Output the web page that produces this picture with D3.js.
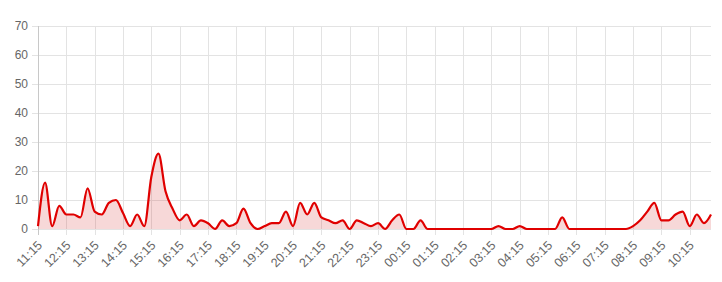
<!DOCTYPE html>
<html>
<head>
<meta charset="utf-8">
<script src="https://cdn.jsdelivr.net/npm/d3@7/dist/d3.min.js"></script>
<style>
  body { margin: 0; background: #fff; }
  #chart text { font-family: "Liberation Sans", Arial, sans-serif; font-size: 12px; fill: #666; }
  #chart .xlab { font-size: 12.5px; }
</style>
</head>
<body>
<div id="chart"></div>
<script>
// one value every 15 minutes, starting 11:15
const values = [
  1, 16, 1, 8, 5, 5, 4, 14, 6, 5, 9, 10, 5.5, 1, 5, 1,
  18, 26, 13, 7, 3, 5, 1, 3, 2, 0, 3, 1, 2, 7, 2, 0,
  1, 2, 2, 6, 1, 9, 5, 9, 4, 3, 2, 3, 0, 3, 2, 1,
  2, 0, 3, 5, 0, 0, 3, 0, 0, 0, 0, 0, 0, 0, 0, 0,
  0, 1, 0, 0, 1, 0, 0, 0, 0, 0, 4, 0, 0, 0, 0, 0,
  0, 0, 0, 0, 1, 3, 6, 9, 3, 3, 5, 6, 1, 5, 2, 5
];
const tickLabels = [
  "11:15", "12:15", "13:15", "14:15", "15:15", "16:15", "17:15", "18:15",
  "19:15", "20:15", "21:15", "22:15", "23:15", "00:15", "01:15", "02:15",
  "03:15", "04:15", "05:15", "06:15", "07:15", "08:15", "09:15", "10:15"
];
const yTicks = [0, 10, 20, 30, 40, 50, 60, 70];

const width = 722, height = 282;
const margin = { top: 26, right: 11, bottom: 53, left: 38 };

const svg = d3.select("#chart")
  .append("svg")
  .attr("width", width)
  .attr("height", height);

const x = d3.scaleLinear()
  .domain([0, values.length - 1])
  .range([margin.left, width - margin.right]);
const y = d3.scaleLinear()
  .domain([0, 70])
  .range([height - margin.bottom, margin.top]);

// grid
const grid = svg.append("g");
grid.selectAll(".hgrid")
  .data(yTicks)
  .enter().append("line")
  .attr("x1", margin.left - 6)
  .attr("x2", width - margin.right)
  .attr("y1", d => Math.round(y(d)) + 0.5)
  .attr("y2", d => Math.round(y(d)) + 0.5)
  .attr("stroke", "#e3e3e3");

grid.selectAll(".vgrid")
  .data(tickLabels)
  .enter().append("line")
  .attr("x1", (d, i) => Math.round(x(i * 4)) + 0.5)
  .attr("x2", (d, i) => Math.round(x(i * 4)) + 0.5)
  .attr("y1", margin.top)
  .attr("y2", height - margin.bottom + 6)
  .attr("stroke", (d, i) => i === 0 ? "#c8c8c8" : "#e3e3e3");

// y labels
svg.selectAll(".ylab")
  .data(yTicks)
  .enter().append("text")
  .attr("x", margin.left - 10)
  .attr("y", d => y(d))
  .attr("dy", "0.35em")
  .attr("text-anchor", "end")
  .text(d => d);

// x labels
svg.selectAll(".xlab")
  .data(tickLabels)
  .enter().append("text")
  .attr("class", "xlab")
  .attr("text-anchor", "end")
  .attr("transform", (d, i) => `translate(${x(i * 4) + 5},${height - margin.bottom + 17}) rotate(-45)`)
  .text(d => d);

// area + line
const curve = d3.curveMonotoneX;
const area = d3.area()
  .x((d, i) => x(i))
  .y0(y(0))
  .y1(d => y(d))
  .curve(curve);
const line = d3.line()
  .x((d, i) => x(i))
  .y(d => y(d))
  .curve(curve);

svg.append("path")
  .datum(values)
  .attr("d", area)
  .attr("fill", "rgba(214, 60, 60, 0.2)");

svg.append("path")
  .datum(values)
  .attr("d", line)
  .attr("fill", "none")
  .attr("stroke", "#e00000")
  .attr("stroke-width", 2.2)
  .attr("stroke-linejoin", "round");
</script>
</body>
</html>
